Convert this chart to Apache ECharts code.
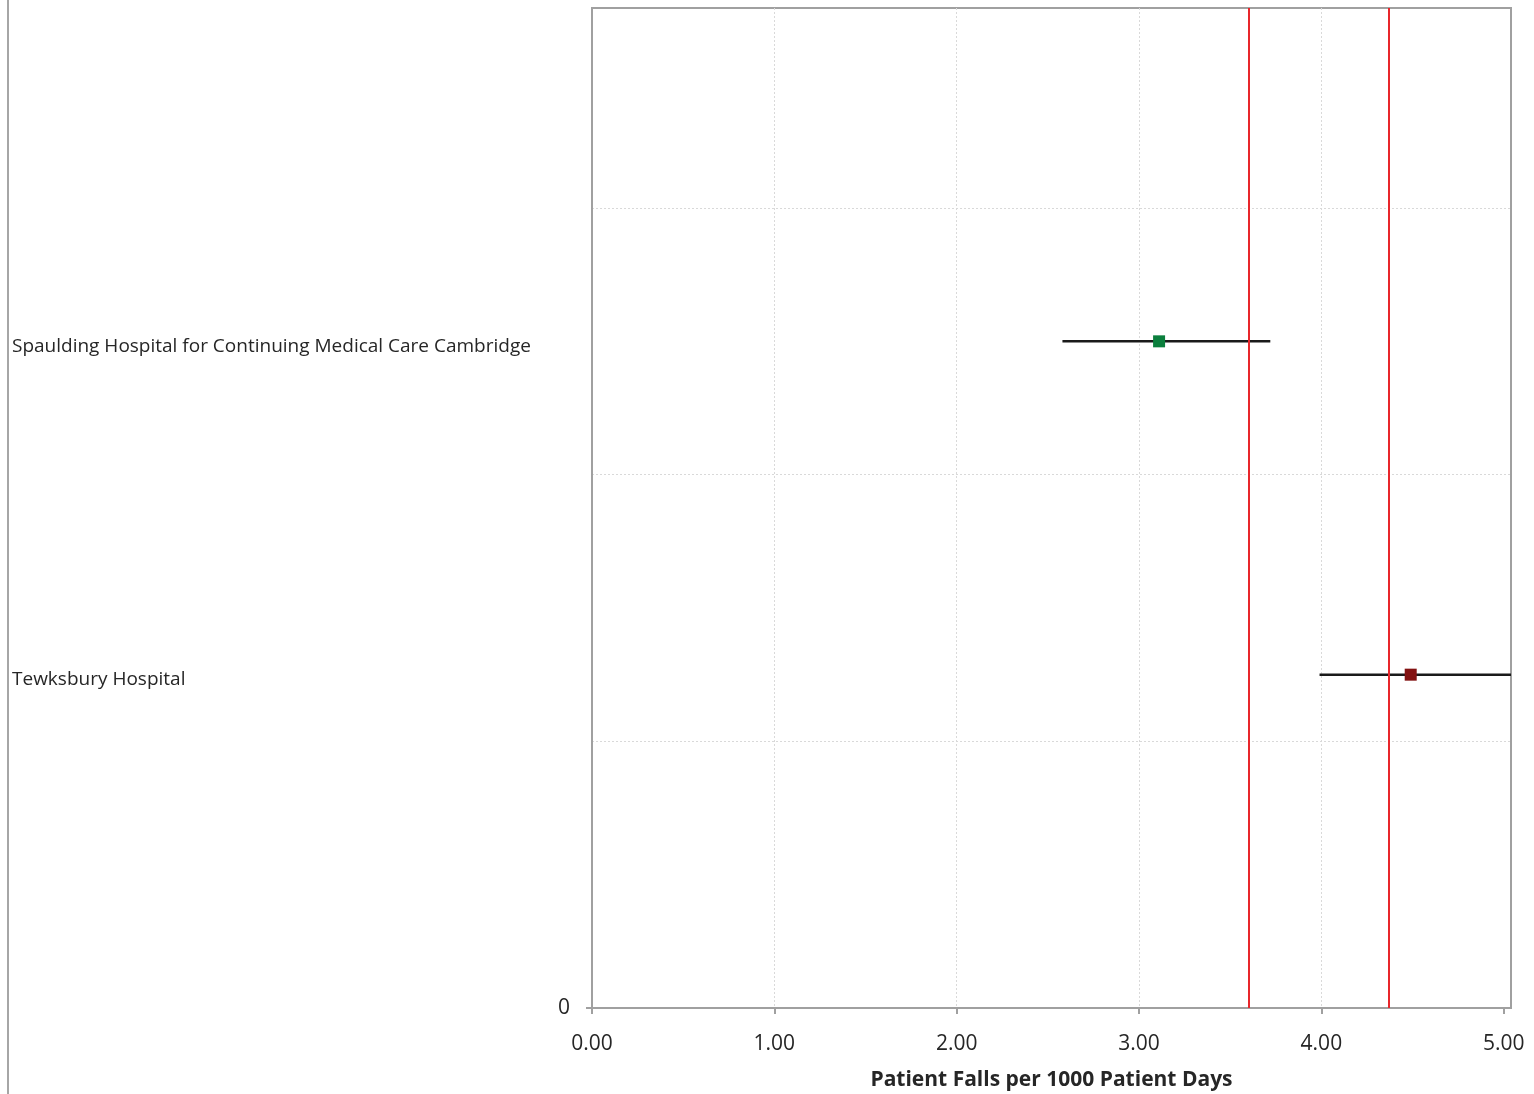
<!DOCTYPE html>
<html>
<head>
<meta charset="utf-8">
<script src="https://cdn.jsdelivr.net/npm/echarts@6/dist/echarts.min.js"></script>
<style>
html,body{margin:0;padding:0;background:#fff;}
#chart{width:1534px;height:1094px;}
</style>
</head>
<body>
<div id="chart"></div>
<script>
const hospitals = ['Spaulding Hospital for Continuing Medical Care Cambridge', 'Tewksbury Hospital'];
const rowPos = [2.5, 1.25];
const rates = [3.11, 4.49];
const lower = [2.58, 3.99];
const upper = [3.72, 5.10];
const pointColors = ['#0b7f3d', '#821111'];
const refLines = [3.60, 4.37];
const xTicks = [0, 1, 2, 3, 4, 5];
const yTicks = [0];

const FONT = '"Open Sans", "Noto Sans", sans-serif';
const chart = echarts.init(document.getElementById('chart'));

const errData = hospitals.map((h, i) => [lower[i], upper[i], rowPos[i]]);
const ptData = hospitals.map((h, i) => ({ value: [rates[i], rowPos[i]], itemStyle: { color: pointColors[i], opacity: 1 } }));
const lblData = hospitals.map((h, i) => [0, rowPos[i], h]);

const gridLine = { show: true, showMinLine: false, showMaxLine: false, lineStyle: { color: '#d9d9d9', width: 1, type: [2, 2] } };

chart.setOption({
  animation: false,
  backgroundColor: '#fff',
  textStyle: { fontFamily: FONT },
  graphic: [{
    type: 'rect', shape: { x: 7, y: 0, width: 2, height: 1094 },
    style: { fill: '#a6a6a6' }, silent: true
  }],
  grid: { left: 592, right: 23, top: 8, bottom: 86, outerBoundsMode: 'none', containLabel: false,
          show: true, borderColor: '#a0a0a0', borderWidth: 2, backgroundColor: 'transparent' },
  xAxis: {
    type: 'value', min: 0, max: 5.04, interval: 1,
    name: 'Patient Falls per 1000 Patient Days', nameLocation: 'middle', nameGap: 62,
    nameTextStyle: { fontFamily: FONT, fontSize: 21, fontWeight: 'bold', color: '#262626' },
    axisLine: { show: true, lineStyle: { color: '#a0a0a0', width: 2 } },
    axisTick: { show: true, length: 6, customValues: xTicks, lineStyle: { color: '#a0a0a0', width: 2 } },
    axisLabel: {
      fontFamily: FONT, fontSize: 21, color: '#262626', margin: 26, customValues: xTicks,
      formatter: v => v.toFixed(2)
    },
    splitLine: gridLine
  },
  yAxis: [{
    type: 'value', min: 0, max: 3.75, interval: 1,
    axisLine: { show: true, lineStyle: { color: '#a0a0a0', width: 2 } },
    axisTick: { show: true, length: 6, customValues: yTicks, lineStyle: { color: '#a0a0a0', width: 2 } },
    axisLabel: { fontFamily: FONT, fontSize: 21, color: '#262626', margin: 22, customValues: yTicks, formatter: v => String(v) },
    splitLine: { show: false }
  }, {
    type: 'value', min: 0, max: 3.75, interval: 1, position: 'right',
    axisLine: { show: false }, axisTick: { show: false }, axisLabel: { show: false },
    splitLine: gridLine
  }],
  series: [
    {
      type: 'custom', clip: true, data: errData, z: 3,
      renderItem: (params, api) => {
        const a = api.coord([api.value(0), api.value(2)]);
        const b = api.coord([api.value(1), api.value(2)]);
        const cs = params.coordSys;
        return {
          type: 'line',
          shape: { x1: a[0], y1: a[1], x2: Math.min(b[0], cs.x + cs.width), y2: b[1] },
          style: { stroke: '#1a1a1a', lineWidth: 2.5 }
        };
      },
      markLine: {
        silent: true, symbol: 'none', label: { show: false },
        lineStyle: { color: '#e8262b', width: 2, type: 'solid' },
        data: refLines.map(v => ({ xAxis: v }))
      }
    },
    {
      type: 'scatter', data: ptData, symbol: 'rect', symbolSize: 12, z: 5
    },
    {
      type: 'custom', clip: false, data: lblData, z: 4,
      renderItem: (params, api) => {
        const p = api.coord([api.value(0), api.value(1)]);
        return {
          type: 'text',
          style: { x: 12, y: p[1] + 5, text: hospitals[params.dataIndex], fill: '#262626', font: '19px ' + FONT, textAlign: 'left', textVerticalAlign: 'middle' }
        };
      }
    }
  ]
});
</script>
</body>
</html>
